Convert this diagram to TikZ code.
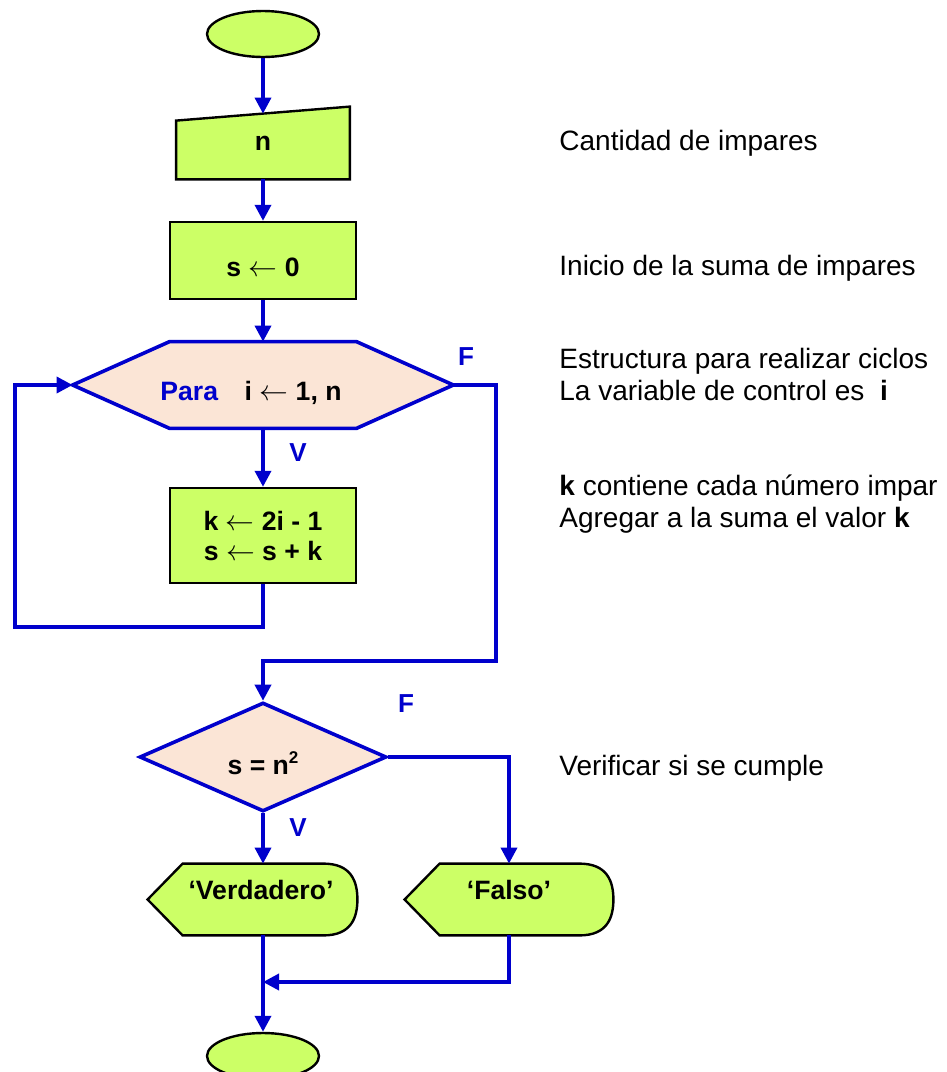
\documentclass[tikz,border=0pt]{standalone}
\usepackage{fontspec}
\setmainfont{Liberation Sans}
\usetikzlibrary{shapes.geometric, arrows.meta, calc, backgrounds}

\definecolor{verdeclaro}{HTML}{CCFF66}
\definecolor{durazno}{HTML}{FBE5D6}
\definecolor{azul}{HTML}{0000CC}

\tikzset{
  flecha/.style={azul, line width=1.8pt, -{Triangle[length=8pt,width=8pt]}},
  borde/.style={draw=black, line width=1.2pt, fill=verdeclaro},
  bordeazul/.style={draw=azul, line width=1.8pt, fill=durazno},
  terminal/.style={ellipse, borde, minimum width=56pt, minimum height=23pt, inner sep=0pt},
  proceso/.style={rectangle, borde, inner sep=0pt, font=\fontsize{13.3}{16}\selectfont\bfseries},
  hueco/.style={rectangle, inner sep=0pt, font=\fontsize{13.3}{16}\selectfont\bfseries},
  decision/.style={diamond, bordeazul, inner sep=0pt, aspect=2.27, font=\fontsize{13.3}{16}\selectfont\bfseries},
  etiq/.style={text=azul, inner sep=0pt, font=\fontsize{13}{16}\selectfont\bfseries},
  nota/.style={anchor=base west, align=left, inner sep=0pt, font=\fontsize{14}{16}\selectfont}
}

\begin{document}
\begin{tikzpicture}[x=0.5pt, y=-0.5pt]
  \useasboundingbox (0,0) rectangle (947,1072);

  % Flow nodes
  \node[terminal] (inicio) at (263,34) {};
  \node[hueco, minimum width=86.5pt, minimum height=36pt, text height=21.5pt, text depth=14.5pt] (entrada) at (263,143) {n};
  \node[proceso, minimum width=93pt, minimum height=38.5pt, text height=27.25pt, text depth=11.25pt] (suma0) at (263,260.5) {s $\leftarrow$ 0};
  \node[hueco, minimum width=190pt, minimum height=43pt, text height=29pt, text depth=14pt] (para) at (263,385) {\textcolor{azul}{Para}\quad i $\leftarrow$ 1, n\hspace*{12pt}};
  \node[proceso, minimum width=93pt, minimum height=47.5pt, align=center] (cuerpo) at (263,535.5) {k $\leftarrow$ 2i - 1\\[-1pt]s $\leftarrow$ s + k};
  \node[decision, minimum width=123.5pt, minimum height=54.5pt, text height=19.5pt, text depth=2pt] (cond) at (263,757) {s = n\raisebox{0.75ex}{\fontsize{8.5}{9}\selectfont 2}};
  \node[hueco, minimum width=104.5pt, minimum height=35.5pt, text height=17.75pt, text depth=17.75pt] (verd) at (252.5,899.5) {\hspace*{8.5pt}‘Verdadero’};
  \node[hueco, minimum width=104pt, minimum height=35.5pt, text height=17.75pt, text depth=17.75pt] (falso) at (509,899.5) {‘Falso’};
  \node[terminal] (fin) at (263,1056) {};

  % Shapes with no built-in node
  \begin{scope}[on background layer]
    \filldraw[borde] (entrada.south west) -- ($(entrada.north west)+(0,-7pt)$)
      -- (entrada.north east) -- (entrada.south east) -- cycle;
    \filldraw[bordeazul] (para.west) -- ($(para.north west)+(48.5pt,0)$)
      -- ($(para.north east)+(-48.5pt,0)$) -- (para.east)
      -- ($(para.south east)+(-48.5pt,0)$) -- ($(para.south west)+(48.5pt,0)$) -- cycle;
    \foreach \d in {verd, falso}{
      \filldraw[borde] (\d.west) -- ($(\d.north west)+(17.5pt,0)$)
        -- ($(\d.north east)+(-17pt,0)$)
        .. controls ($(\d.north east)+(-3pt,0)$) and ($(\d.east)+(0,9pt)$) .. (\d.east)
        .. controls ($(\d.east)+(0,-9pt)$) and ($(\d.south east)+(-3pt,0)$) .. ($(\d.south east)+(-17pt,0)$)
        -- ($(\d.south west)+(17.5pt,0)$) -- cycle;
    }
  \end{scope}

  % Free ends of the connectors
  \coordinate (entTop) at ($(entrada.north)+(0,-3.5pt)$);
  \coordinate (lazo) at (15,627);
  \coordinate (salida) at (496,661);
  \coordinate (union) at (263,982);

  % Connectors
  \draw[flecha] (inicio) -- (entTop);
  \draw[flecha] (entrada) -- (suma0);
  \draw[flecha] (suma0) -- (para);
  \draw[flecha] (para) -- (cuerpo);
  \draw[flecha] (cuerpo.south) |- (lazo) |- (para.west);
  \draw[flecha] (para.east) -| (salida) -| (cond.north);
  \draw[flecha] (cond.south) -- (cond.south |- verd.north);
  \draw[flecha] (cond.east) -| (falso.north);
  \draw[flecha] (falso.south) |- (union);
  \draw[flecha] (verd.south -| fin) -- (fin);

  % Branch labels
  \node[etiq] (f1) at (466,357) {F};
  \node[etiq] (v1) at (298,453) {V};
  \node[etiq] (f2) at (406,704) {F};
  \node[etiq] (v2) at (298,828) {V};

  % Notes
  \node[nota] (n1) at (559,150.5) {Cantidad de impares};
  \node[nota] (n2) at (559,275) {Inicio de la suma de impares};
  \node[nota] (n3) at (559,400) {Estructura para realizar ciclos\\La variable de control es \ \textbf{i}};
  \node[nota] (n4) at (559,527.5) {\textbf{k} contiene cada número impar\\Agregar a la suma el valor \textbf{k}};
  \node[nota] (n5) at (559,775) {Verificar si se cumple};
\end{tikzpicture}
\end{document}
